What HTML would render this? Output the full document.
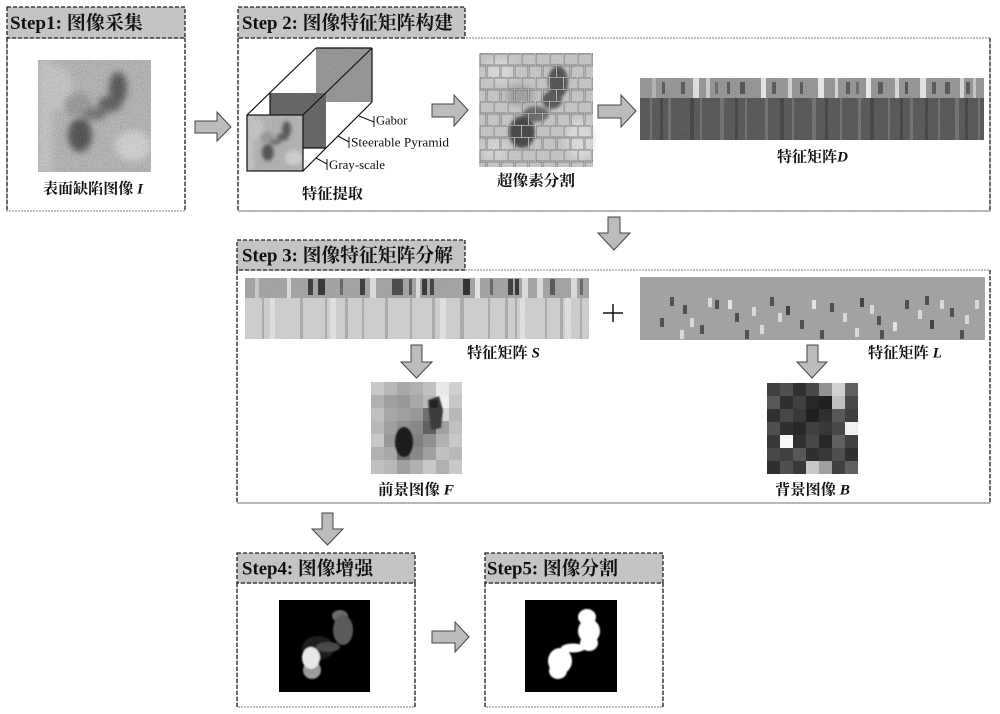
<!DOCTYPE html>
<html><head><meta charset="utf-8"><style>
html,body{margin:0;padding:0;background:#fff;}
svg{display:block;}
text{font-family:"Liberation Serif","Noto Serif CJK SC",serif;fill:#111;}
</style></head><body>
<svg width="1000" height="714" viewBox="0 0 1000 714" xmlns="http://www.w3.org/2000/svg">
<defs>
<filter id="grain" x="0" y="0" width="1" height="1"><feTurbulence type="fractalNoise" baseFrequency="0.9" numOctaves="2" seed="5"/><feColorMatrix type="matrix" values="0.7 0.7 0.7 0 -0.55 0.7 0.7 0.7 0 -0.55 0.7 0.7 0.7 0 -0.55 0 0 0 0 1"/></filter>
<filter id="grain2" x="0" y="0" width="1" height="1"><feTurbulence type="fractalNoise" baseFrequency="1.4" numOctaves="1" seed="9"/><feColorMatrix type="matrix" values="0.7 0.7 0.7 0 -0.55 0.7 0.7 0.7 0 -0.55 0.7 0.7 0.7 0 -0.55 0 0 0 0 1"/></filter>
<filter id="b4" x="-50%" y="-50%" width="200%" height="200%"><feGaussianBlur stdDeviation="3.5"/></filter>
<filter id="b2" x="-50%" y="-50%" width="200%" height="200%"><feGaussianBlur stdDeviation="1.5"/></filter>
<filter id="b1" x="-50%" y="-50%" width="200%" height="200%"><feGaussianBlur stdDeviation="0.8"/></filter>
<clipPath id="c1"><rect x="0" y="0" width="113" height="112"/></clipPath>
<symbol id="def" viewBox="0 0 113 112">
<g clip-path="url(#c1)">
<rect width="113" height="112" fill="#adadad"/>
<g filter="url(#b4)">
<rect x="0" y="0" width="14" height="112" fill="#c2c2c2"/>
<ellipse cx="20" cy="28" rx="14" ry="22" fill="#c4c4c4"/>
<ellipse cx="95" cy="86" rx="18" ry="15" fill="#d4d4d4"/>
<ellipse cx="40" cy="45" rx="14" ry="12" fill="#888"/>
<ellipse cx="80" cy="28" rx="9" ry="16" fill="#333"/>
<ellipse cx="72" cy="44" rx="12" ry="8" fill="#3e3e3e"/>
<ellipse cx="57" cy="54" rx="12" ry="6" fill="#555"/>
<ellipse cx="42" cy="75" rx="12" ry="17" fill="#2a2a2a"/>
</g>
<rect width="113" height="112" fill="#000" filter="url(#grain)" opacity="0.3"/>
</g>
</symbol>
<pattern id="cells" width="14" height="24" patternUnits="userSpaceOnUse" x="479" y="53">
<path d="M0 0.5H14 M0 12.5H14 M0.5 0V12.5 M7.5 12.5V24" stroke="#4a4a4a" stroke-width="1.6" fill="none"/>
<path d="M0 0.5H14 M0 12.5H14 M0.5 0V12.5 M7.5 12.5V24" stroke="#f4f4f4" stroke-width="0.6" fill="none"/>
</pattern>
</defs>

<!-- Step1 -->
<rect x="7" y="38" width="178" height="173" fill="none" stroke="#999" stroke-width="1.2" stroke-dasharray="2 1"/>
<line x1="7" y1="38" x2="7" y2="211" stroke="#222" stroke-width="1.3" stroke-dasharray="4 2"/>
<line x1="185" y1="38" x2="185" y2="211" stroke="#222" stroke-width="1.3" stroke-dasharray="4 2"/>
<rect x="7" y="7" width="178" height="31" fill="#c4c4c4" stroke="#222" stroke-width="1.3" stroke-dasharray="4 2"/>
<text x="10" y="29" font-size="19" font-weight="bold" textLength="133" lengthAdjust="spacingAndGlyphs">Step1: 图像采集</text>
<use href="#def" x="38" y="60" width="113" height="112"/>
<text x="43" y="193.5" font-size="15" font-weight="bold" textLength="100" lengthAdjust="spacingAndGlyphs">表面缺陷图像 <tspan font-style="italic">I</tspan></text>

<!-- Step2 -->
<rect x="238" y="38" width="752" height="173" fill="none" stroke="#999" stroke-width="1.2" stroke-dasharray="2 1"/>
<line x1="238" y1="211" x2="990" y2="211" stroke="#999" stroke-width="1.2"/>
<line x1="238" y1="38" x2="238" y2="211" stroke="#222" stroke-width="1.3" stroke-dasharray="4 2"/>
<line x1="990" y1="38" x2="990" y2="211" stroke="#222" stroke-width="1.3" stroke-dasharray="4 2"/>
<rect x="238" y="7" width="227" height="31" fill="#c4c4c4" stroke="#222" stroke-width="1.3" stroke-dasharray="4 2"/>
<text x="242" y="29" font-size="19" font-weight="bold" textLength="211" lengthAdjust="spacingAndGlyphs">Step 2: 图像特征矩阵构建</text>

<!-- cube -->
<rect x="316" y="48" width="56" height="54" fill="#8c8c8c"/>
<rect x="316" y="48" width="56" height="54" fill="#000" filter="url(#grain)" opacity="0.2"/>
<rect x="270" y="93" width="56" height="55" fill="#3a3a3a"/>
<rect x="270" y="93" width="56" height="55" fill="#000" filter="url(#grain2)" opacity="0.35"/>
<use href="#def" x="247" y="115" width="56" height="56"/>
<g stroke="#111" stroke-width="1.2" fill="none">
<rect x="247" y="115" width="56" height="56"/>
<line x1="247" y1="115" x2="316" y2="48"/>
<line x1="303" y1="115" x2="372" y2="48"/>
<line x1="303" y1="171" x2="372" y2="102"/>
<line x1="316" y1="48" x2="372" y2="48"/>
<line x1="372" y1="48" x2="372" y2="102"/>
<line x1="270" y1="93" x2="270" y2="115"/>
<line x1="303" y1="148" x2="326" y2="148"/>
</g>
<g stroke="#111" stroke-width="1" fill="none">
<line x1="359" y1="116" x2="374" y2="122"/><line x1="374" y1="116" x2="374" y2="127"/>
<line x1="338" y1="136" x2="349" y2="142"/><line x1="349" y1="137" x2="349" y2="148"/>
<line x1="316" y1="158" x2="327" y2="164"/><line x1="327" y1="159" x2="327" y2="170"/>
</g>
<text x="376" y="124.5" font-size="12.5">Gabor</text>
<text x="351" y="146.5" font-size="12.5" textLength="98" lengthAdjust="spacingAndGlyphs">Steerable Pyramid</text>
<text x="329" y="169" font-size="12.5" textLength="56" lengthAdjust="spacingAndGlyphs">Gray-scale</text>
<text x="302" y="198.5" font-size="15" font-weight="bold" textLength="61" lengthAdjust="spacingAndGlyphs">特征提取</text>

<!-- superpixel -->
<g>
<rect x="479" y="53" width="114" height="114" fill="#c6c6c6"/>
<g filter="url(#b4)">
<ellipse cx="500" cy="70" rx="14" ry="12" fill="#dedede"/>
<ellipse cx="580" cy="140" rx="14" ry="20" fill="#e0e0e0"/>
<ellipse cx="495" cy="150" rx="12" ry="12" fill="#d8d8d8"/>
<ellipse cx="520" cy="95" rx="14" ry="10" fill="#9a9a9a"/>
</g>
<g filter="url(#b2)">
<ellipse cx="558" cy="82" rx="10" ry="16" fill="#3a3a3a"/>
<ellipse cx="552" cy="100" rx="10" ry="9" fill="#444"/>
<ellipse cx="536" cy="114" rx="13" ry="8" fill="#5a5a5a"/>
<ellipse cx="522" cy="132" rx="13" ry="16" fill="#2e2e2e"/>
</g>
<rect x="479" y="53" width="114" height="114" fill="#000" filter="url(#grain)" opacity="0.2"/>
<rect x="479" y="53" width="114" height="114" fill="url(#cells)"/>
</g>
<text x="497" y="185.5" font-size="15" font-weight="bold" textLength="78" lengthAdjust="spacingAndGlyphs">超像素分割</text>

<!-- matrix D -->
<g>
<rect x="640" y="78" width="344" height="20" fill="#8a8a8a"/>
<g fill="#e8e8e8">
<rect x="693" y="78" width="6" height="20"/><rect x="706" y="78" width="4" height="20" fill="#cfcfcf"/><rect x="761" y="78" width="5" height="20" fill="#f2f2f2"/><rect x="788" y="78" width="4" height="20" fill="#d8d8d8"/><rect x="818" y="78" width="6" height="20" fill="#f4f4f4"/><rect x="835" y="78" width="3" height="20" fill="#ddd"/><rect x="866" y="78" width="5" height="20" fill="#f8f8f8"/><rect x="895" y="78" width="4" height="20" fill="#e0e0e0"/><rect x="920" y="78" width="6" height="20" fill="#eee"/><rect x="960" y="78" width="4" height="20" fill="#ddd"/><rect x="652" y="78" width="4" height="20" fill="#b0b0b0"/><rect x="973" y="78" width="3" height="20" fill="#c8c8c8"/>
</g>
<g fill="#3c3c3c">
<rect x="662" y="82" width="3" height="12"/><rect x="681" y="82" width="4" height="12"/><rect x="727" y="82" width="3" height="12"/><rect x="740" y="82" width="5" height="12" fill="#333"/><rect x="772" y="82" width="4" height="12"/><rect x="800" y="82" width="3" height="12"/><rect x="846" y="82" width="4" height="12"/><rect x="878" y="82" width="5" height="12"/><rect x="905" y="82" width="3" height="12" fill="#333"/><rect x="932" y="82" width="4" height="12"/><rect x="945" y="82" width="5" height="12"/><rect x="966" y="82" width="4" height="12"/><rect x="715" y="82" width="3" height="12" fill="#555"/><rect x="856" y="82" width="3" height="12" fill="#555"/>
</g>
<rect x="640" y="98" width="344" height="42" fill="#3a3a3a"/>
<g fill="#5c5c5c">
<rect x="650" y="98" width="2" height="42"/><rect x="668" y="98" width="3" height="42"/><rect x="700" y="98" width="2" height="42"/><rect x="720" y="98" width="4" height="42"/><rect x="745" y="98" width="2" height="42"/><rect x="765" y="98" width="3" height="42"/><rect x="792" y="98" width="2" height="42"/><rect x="812" y="98" width="4" height="42"/><rect x="840" y="98" width="2" height="42"/><rect x="858" y="98" width="3" height="42"/><rect x="888" y="98" width="2" height="42"/><rect x="910" y="98" width="3" height="42"/><rect x="938" y="98" width="2" height="42"/><rect x="955" y="98" width="4" height="42"/><rect x="978" y="98" width="2" height="42"/>
</g>
<g fill="#222">
<rect x="660" y="98" width="3" height="42"/><rect x="690" y="98" width="4" height="42"/><rect x="735" y="98" width="3" height="42"/><rect x="780" y="98" width="4" height="42"/><rect x="825" y="98" width="3" height="42"/><rect x="870" y="98" width="4" height="42"/><rect x="900" y="98" width="3" height="42"/><rect x="925" y="98" width="3" height="42"/><rect x="965" y="98" width="3" height="42"/>
</g>
<rect x="640" y="78" width="344" height="62" fill="#000" filter="url(#grain2)" opacity="0.25"/>
</g>
<text x="777" y="161.5" font-size="15" font-weight="bold" textLength="71" lengthAdjust="spacingAndGlyphs">特征矩阵<tspan font-style="italic">D</tspan></text>

<!-- Step3 -->
<rect x="237" y="270" width="753" height="233" fill="none" stroke="#999" stroke-width="1.2" stroke-dasharray="2 1"/>
<line x1="237" y1="503" x2="990" y2="503" stroke="#999" stroke-width="1.2"/>
<line x1="237" y1="270" x2="237" y2="503" stroke="#222" stroke-width="1.3" stroke-dasharray="4 2"/>
<line x1="990" y1="270" x2="990" y2="503" stroke="#222" stroke-width="1.3" stroke-dasharray="4 2"/>
<rect x="237" y="240" width="228" height="30" fill="#c4c4c4" stroke="#222" stroke-width="1.3" stroke-dasharray="4 2"/>
<text x="242" y="261.5" font-size="19" font-weight="bold" textLength="211" lengthAdjust="spacingAndGlyphs">Step 3: 图像特征矩阵分解</text>

<!-- matrix S -->
<g>
<rect x="245" y="278" width="344" height="20" fill="#9e9e9e"/>
<g fill="#e2e2e2">
<rect x="287" y="278" width="4" height="20"/><rect x="370" y="278" width="6" height="20"/><rect x="416" y="278" width="4" height="20"/><rect x="475" y="278" width="5" height="20" fill="#eee"/><rect x="522" y="278" width="6" height="20"/><rect x="537" y="278" width="6" height="20"/><rect x="571" y="278" width="6" height="20"/><rect x="255" y="278" width="4" height="20" fill="#ccc"/>
</g>
<g fill="#222">
<rect x="308" y="279" width="5" height="16"/><rect x="318" y="279" width="7" height="16" fill="#1a1a1a"/><rect x="340" y="279" width="3" height="16" fill="#555"/><rect x="360" y="279" width="5" height="16"/><rect x="392" y="279" width="11" height="16" fill="#333"/><rect x="409" y="279" width="3" height="16" fill="#444"/><rect x="422" y="279" width="5" height="16" fill="#1c1c1c"/><rect x="430" y="279" width="4" height="16" fill="#2a2a2a"/><rect x="463" y="279" width="7" height="16" fill="#111"/><rect x="490" y="279" width="3" height="16" fill="#555"/><rect x="508" y="279" width="5" height="16"/><rect x="515" y="279" width="4" height="16" fill="#1a1a1a"/><rect x="550" y="279" width="5" height="16" fill="#444"/><rect x="580" y="279" width="3" height="16" fill="#555"/>
</g>
<rect x="245" y="298" width="344" height="41" fill="#d2d2d2"/>
<g fill="#a8a8a8">
<rect x="262" y="298" width="2" height="41"/><rect x="300" y="298" width="3" height="41"/><rect x="325" y="298" width="2" height="41"/><rect x="345" y="298" width="3" height="41"/><rect x="362" y="298" width="2" height="41"/><rect x="385" y="298" width="3" height="41"/><rect x="410" y="298" width="2" height="41"/><rect x="432" y="298" width="3" height="41"/><rect x="460" y="298" width="4" height="41"/><rect x="488" y="298" width="2" height="41"/><rect x="505" y="298" width="3" height="41"/><rect x="515" y="298" width="2" height="41"/><rect x="545" y="298" width="2" height="41"/><rect x="560" y="298" width="3" height="41"/><rect x="580" y="298" width="2" height="41"/>
</g>
<g fill="#e8e8e8">
<rect x="270" y="298" width="5" height="41"/><rect x="330" y="298" width="6" height="41"/><rect x="440" y="298" width="6" height="41"/><rect x="520" y="298" width="5" height="41"/><rect x="565" y="298" width="6" height="41"/>
</g>
<rect x="245" y="278" width="344" height="61" fill="#000" filter="url(#grain2)" opacity="0.2"/>
</g>
<text x="467" y="357.5" font-size="15" font-weight="bold" textLength="73" lengthAdjust="spacingAndGlyphs">特征矩阵 <tspan font-style="italic">S</tspan></text>

<!-- plus -->
<line x1="603" y1="313" x2="623" y2="313" stroke="#111" stroke-width="1.5"/>
<line x1="613" y1="304" x2="613" y2="322" stroke="#111" stroke-width="1.5"/>

<!-- matrix L -->
<g>
<rect x="640" y="277" width="345" height="63" fill="#9c9c9c"/>
<g fill="#333">
<rect x="670" y="297" width="4" height="9"/><rect x="683" y="305" width="4" height="9"/><rect x="715" y="300" width="4" height="9"/><rect x="735" y="313" width="4" height="9"/><rect x="770" y="297" width="4" height="9"/><rect x="800" y="320" width="4" height="9"/><rect x="830" y="303" width="4" height="9"/><rect x="860" y="298" width="4" height="9" fill="#222"/><rect x="877" y="316" width="4" height="9"/><rect x="905" y="300" width="4" height="9"/><rect x="930" y="320" width="4" height="9" fill="#222"/><rect x="950" y="308" width="4" height="9"/><rect x="700" y="325" width="4" height="9"/><rect x="745" y="330" width="4" height="9"/><rect x="820" y="330" width="4" height="9"/><rect x="880" y="330" width="4" height="9"/><rect x="960" y="330" width="4" height="9"/><rect x="786" y="306" width="4" height="9" fill="#222"/><rect x="660" y="318" width="4" height="9"/><rect x="925" y="296" width="4" height="9"/>
</g>
<g fill="#e2e2e2">
<rect x="690" y="318" width="4" height="9"/><rect x="708" y="298" width="4" height="9"/><rect x="728" y="300" width="4" height="9" fill="#f0f0f0"/><rect x="752" y="307" width="4" height="9"/><rect x="778" y="313" width="4" height="9"/><rect x="812" y="300" width="4" height="9" fill="#f0f0f0"/><rect x="843" y="313" width="4" height="9"/><rect x="870" y="305" width="4" height="9"/><rect x="893" y="322" width="4" height="9" fill="#f0f0f0"/><rect x="918" y="310" width="4" height="9"/><rect x="940" y="300" width="4" height="9"/><rect x="965" y="315" width="4" height="9"/><rect x="680" y="330" width="4" height="9"/><rect x="760" y="325" width="4" height="9"/><rect x="855" y="328" width="4" height="9"/><rect x="975" y="300" width="4" height="9"/>
</g>
<rect x="640" y="277" width="345" height="63" fill="#000" filter="url(#grain2)" opacity="0.22"/>
</g>
<text x="868" y="357.5" font-size="15" font-weight="bold" textLength="74" lengthAdjust="spacingAndGlyphs">特征矩阵 <tspan font-style="italic">L</tspan></text>

<!-- F image -->
<g>
<g transform="translate(371,382)">
<rect width="91" height="92" fill="#b8b8b8"/>
<rect x="0" y="0" width="13" height="13" fill="#c8c8c8"/><rect x="13" y="0" width="13" height="13" fill="#b8b8b8"/><rect x="26" y="0" width="13" height="13" fill="#a8a8a8"/><rect x="39" y="0" width="13" height="13" fill="#b0b0b0"/><rect x="52" y="0" width="13" height="13" fill="#c0c0c0"/><rect x="65" y="0" width="13" height="13" fill="#e8e8e8"/><rect x="78" y="0" width="13" height="13" fill="#d0d0d0"/>
<rect x="0" y="13" width="13" height="13" fill="#b0b0b0"/><rect x="13" y="13" width="13" height="13" fill="#a0a0a0"/><rect x="26" y="13" width="13" height="13" fill="#989898"/><rect x="39" y="13" width="13" height="13" fill="#a8a8a8"/><rect x="52" y="13" width="13" height="13" fill="#b8b8b8"/><rect x="65" y="13" width="13" height="13" fill="#f0f0f0"/><rect x="78" y="13" width="13" height="13" fill="#c8c8c8"/>
<rect x="0" y="26" width="13" height="13" fill="#c0c0c0"/><rect x="13" y="26" width="13" height="13" fill="#a8a8a8"/><rect x="26" y="26" width="13" height="13" fill="#a0a0a0"/><rect x="39" y="26" width="13" height="13" fill="#989898"/><rect x="52" y="26" width="13" height="13" fill="#707070"/><rect x="65" y="26" width="13" height="13" fill="#d8d8d8"/><rect x="78" y="26" width="13" height="13" fill="#b8b8b8"/>
<rect x="0" y="39" width="13" height="13" fill="#b8b8b8"/><rect x="13" y="39" width="13" height="13" fill="#a0a0a0"/><rect x="26" y="39" width="13" height="13" fill="#909090"/><rect x="39" y="39" width="13" height="13" fill="#888"/><rect x="52" y="39" width="13" height="13" fill="#606060"/><rect x="65" y="39" width="13" height="13" fill="#a0a0a0"/><rect x="78" y="39" width="13" height="13" fill="#c0c0c0"/>
<rect x="0" y="52" width="13" height="13" fill="#c8c8c8"/><rect x="13" y="52" width="13" height="13" fill="#989898"/><rect x="26" y="52" width="13" height="13" fill="#606060"/><rect x="39" y="52" width="13" height="13" fill="#808080"/><rect x="52" y="52" width="13" height="13" fill="#909090"/><rect x="65" y="52" width="13" height="13" fill="#b0b0b0"/><rect x="78" y="52" width="13" height="13" fill="#c8c8c8"/>
<rect x="0" y="65" width="13" height="13" fill="#b0b0b0"/><rect x="13" y="65" width="13" height="13" fill="#a8a8a8"/><rect x="26" y="65" width="13" height="13" fill="#707070"/><rect x="39" y="65" width="13" height="13" fill="#888"/><rect x="52" y="65" width="13" height="13" fill="#a0a0a0"/><rect x="65" y="65" width="13" height="13" fill="#c0c0c0"/><rect x="78" y="65" width="13" height="13" fill="#b8b8b8"/>
<rect x="0" y="78" width="13" height="14" fill="#c0c0c0"/><rect x="13" y="78" width="13" height="14" fill="#b8b8b8"/><rect x="26" y="78" width="13" height="14" fill="#a0a0a0"/><rect x="39" y="78" width="13" height="14" fill="#b0b0b0"/><rect x="52" y="78" width="13" height="14" fill="#c8c8c8"/><rect x="65" y="78" width="13" height="14" fill="#b0b0b0"/><rect x="78" y="78" width="13" height="14" fill="#c8c8c8"/>
<g filter="url(#b1)">
<ellipse cx="33" cy="60" rx="9" ry="15" fill="#1a1a1a"/>
<polygon points="57,18 68,14 72,28 70,46 60,48 58,32" fill="#3c3c3c"/>
<rect x="59" y="18" width="8" height="8" fill="#222"/>
</g>
</g>
</g>
<text x="378" y="494.5" font-size="15" font-weight="bold" textLength="76" lengthAdjust="spacingAndGlyphs">前景图像 <tspan font-style="italic">F</tspan></text>

<!-- B image -->
<g transform="translate(767,383)">
<rect width="91" height="91" fill="#404040"/>
<rect x="0" y="0" width="13" height="13" fill="#404040"/><rect x="13" y="0" width="13" height="13" fill="#505050"/><rect x="26" y="0" width="13" height="13" fill="#303030"/><rect x="39" y="0" width="13" height="13" fill="#484848"/><rect x="52" y="0" width="13" height="13" fill="#909090"/><rect x="65" y="0" width="13" height="13" fill="#d0d0d0"/><rect x="78" y="0" width="13" height="13" fill="#606060"/>
<rect x="0" y="13" width="13" height="13" fill="#585858"/><rect x="13" y="13" width="13" height="13" fill="#303030"/><rect x="26" y="13" width="13" height="13" fill="#404040"/><rect x="39" y="13" width="13" height="13" fill="#282828"/><rect x="52" y="13" width="13" height="13" fill="#202020"/><rect x="65" y="13" width="13" height="13" fill="#c0c0c0"/><rect x="78" y="13" width="13" height="13" fill="#484848"/>
<rect x="0" y="26" width="13" height="13" fill="#303030"/><rect x="13" y="26" width="13" height="13" fill="#484848"/><rect x="26" y="26" width="13" height="13" fill="#383838"/><rect x="39" y="26" width="13" height="13" fill="#202020"/><rect x="52" y="26" width="13" height="13" fill="#303030"/><rect x="65" y="26" width="13" height="13" fill="#585858"/><rect x="78" y="26" width="13" height="13" fill="#404040"/>
<rect x="0" y="39" width="13" height="13" fill="#505050"/><rect x="13" y="39" width="13" height="13" fill="#303030"/><rect x="26" y="39" width="13" height="13" fill="#282828"/><rect x="39" y="39" width="13" height="13" fill="#404040"/><rect x="52" y="39" width="13" height="13" fill="#383838"/><rect x="65" y="39" width="13" height="13" fill="#484848"/><rect x="78" y="39" width="13" height="13" fill="#f0f0f0"/>
<rect x="0" y="52" width="13" height="13" fill="#383838"/><rect x="13" y="52" width="13" height="13" fill="#f8f8f8"/><rect x="26" y="52" width="13" height="13" fill="#303030"/><rect x="39" y="52" width="13" height="13" fill="#484848"/><rect x="52" y="52" width="13" height="13" fill="#282828"/><rect x="65" y="52" width="13" height="13" fill="#606060"/><rect x="78" y="52" width="13" height="13" fill="#404040"/>
<rect x="0" y="65" width="13" height="13" fill="#484848"/><rect x="13" y="65" width="13" height="13" fill="#404040"/><rect x="26" y="65" width="13" height="13" fill="#585858"/><rect x="39" y="65" width="13" height="13" fill="#303030"/><rect x="52" y="65" width="13" height="13" fill="#383838"/><rect x="65" y="65" width="13" height="13" fill="#505050"/><rect x="78" y="65" width="13" height="13" fill="#303030"/>
<rect x="0" y="78" width="13" height="13" fill="#303030"/><rect x="13" y="78" width="13" height="13" fill="#505050"/><rect x="26" y="78" width="13" height="13" fill="#383838"/><rect x="39" y="78" width="13" height="13" fill="#c8c8c8"/><rect x="52" y="78" width="13" height="13" fill="#a0a0a0"/><rect x="65" y="78" width="13" height="13" fill="#404040"/><rect x="78" y="78" width="13" height="13" fill="#606060"/>
</g>
<text x="775" y="494.5" font-size="15" font-weight="bold" textLength="75" lengthAdjust="spacingAndGlyphs">背景图像 <tspan font-style="italic">B</tspan></text>

<!-- Step4 -->
<rect x="237" y="583" width="178" height="124" fill="none" stroke="#999" stroke-width="1.2" stroke-dasharray="2 1"/>
<line x1="237" y1="583" x2="237" y2="707" stroke="#222" stroke-width="1.3" stroke-dasharray="4 2"/>
<line x1="415" y1="583" x2="415" y2="707" stroke="#222" stroke-width="1.3" stroke-dasharray="4 2"/>
<rect x="237" y="553" width="178" height="30" fill="#c4c4c4" stroke="#222" stroke-width="1.3" stroke-dasharray="4 2"/>
<text x="242" y="574.5" font-size="19" font-weight="bold" textLength="131" lengthAdjust="spacingAndGlyphs">Step4: 图像增强</text>
<rect x="279" y="600" width="91" height="92" fill="#000"/>
<g filter="url(#b1)">
<ellipse cx="318" cy="648" rx="16" ry="12" fill="#1c1c1c"/>
<ellipse cx="340" cy="616" rx="8" ry="6" fill="#6a6a6a"/>
<ellipse cx="343" cy="630" rx="10" ry="15" fill="#5a5a5a"/>
<ellipse cx="328" cy="647" rx="12" ry="5" fill="#4a4a4a"/>
<ellipse cx="312" cy="670" rx="9" ry="9" fill="#9a9a9a"/>
<ellipse cx="311" cy="658" rx="9" ry="11" fill="#e8e8e8"/>
</g>

<!-- Step5 -->
<rect x="485" y="583" width="178" height="124" fill="none" stroke="#999" stroke-width="1.2" stroke-dasharray="2 1"/>
<line x1="485" y1="583" x2="485" y2="707" stroke="#222" stroke-width="1.3" stroke-dasharray="4 2"/>
<line x1="663" y1="583" x2="663" y2="707" stroke="#222" stroke-width="1.3" stroke-dasharray="4 2"/>
<rect x="485" y="553" width="178" height="30" fill="#c4c4c4" stroke="#222" stroke-width="1.3" stroke-dasharray="4 2"/>
<text x="487" y="574.5" font-size="19" font-weight="bold" textLength="131" lengthAdjust="spacingAndGlyphs">Step5: 图像分割</text>
<rect x="525" y="600" width="92" height="92" fill="#000"/>
<g filter="url(#b1)" fill="#fff">
<ellipse cx="587" cy="617" rx="9" ry="8"/>
<ellipse cx="589" cy="631" rx="11" ry="12"/>
<ellipse cx="589" cy="643" rx="9" ry="8"/>
<ellipse cx="573" cy="648" rx="12" ry="4.5"/>
<ellipse cx="560" cy="661" rx="12" ry="13"/>
<ellipse cx="558" cy="671" rx="9" ry="8"/>
</g>

<!-- arrows -->
<g fill="#bcbcbc" stroke="#444" stroke-width="1">
<polygon points="195,121 217,121 217,112 231,127 217,141 217,133 195,133"/>
<polygon points="432,104 454,104 454,95 468,110 454,126 454,117 432,117"/>
<polygon points="598,105 621,105 621,95 636,111 621,127 621,118 598,118"/>
<polygon points="432,631 455,631 455,622 469,637 455,652 455,643 432,643"/>
<polygon points="608,217 620,217 620,233 630,233 614,250 598,233 608,233"/>
<polygon points="411,345 422,345 422,362 432,362 416.5,378 401,362 411,362"/>
<polygon points="807,345 818,345 818,362 827,362 812,378 797,362 807,362"/>
<polygon points="322,513 333,513 333,529 343,529 327.5,545 312,529 322,529"/>
</g>
</svg>
</body></html>
